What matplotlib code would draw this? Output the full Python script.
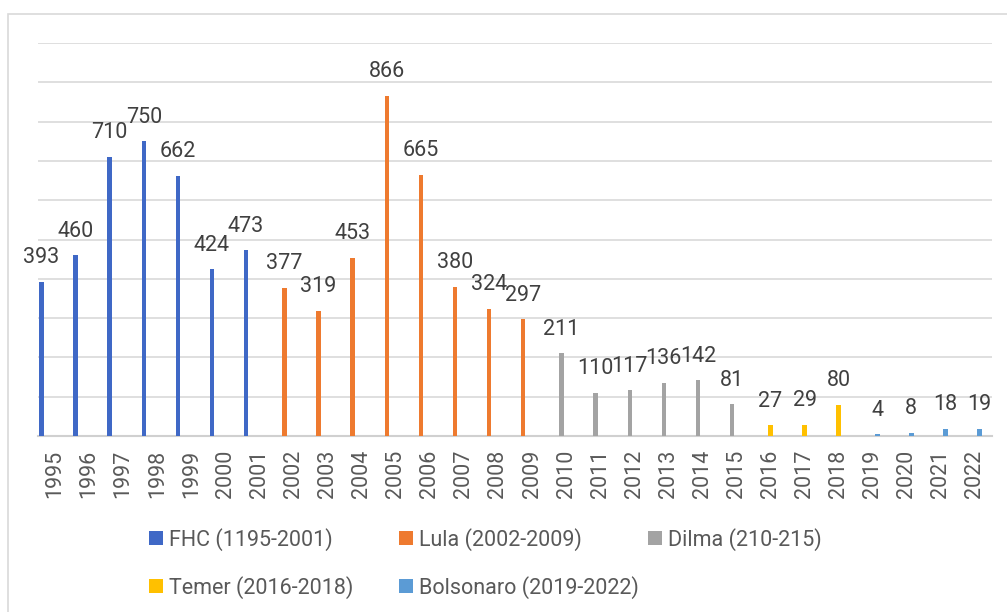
import matplotlib
matplotlib.use("Agg")
import matplotlib.pyplot as plt
from matplotlib.patches import Rectangle, Patch

# ---- data ----
years = [str(y) for y in range(1995, 2023)]
series_names = ["FHC (1195-2001)", "Lula (2002-2009)", "Dilma (210-215)",
                "Temer (2016-2018)", "Bolsonaro (2019-2022)"]
fhc_years = years[0:7]
fhc_vals = [393, 460, 710, 750, 662, 424, 473]
lula_years = years[7:15]
lula_vals = [377, 319, 453, 866, 665, 380, 324, 297]
dilma_years = years[15:21]
dilma_vals = [211, 110, 117, 136, 142, 81]
temer_years = years[21:24]
temer_vals = [27, 29, 80]
bolso_years = years[24:28]
bolso_vals = [4, 8, 18, 19]

colors = ["#3F68C6", "#EE7A2F", "#A3A3A3", "#FFC000", "#5B9BD5"]

series = [(fhc_years, fhc_vals), (lula_years, lula_vals), (dilma_years, dilma_vals),
          (temer_years, temer_vals), (bolso_years, bolso_vals)]

W, H = 1007, 612
fig = plt.figure(figsize=(W / 100, H / 100), dpi=100)
plt.rcParams['font.family'] = ['Roboto', 'DejaVu Sans']
FS = 15.5

# chart border
fig.patches.append(Rectangle((8 / W, -0.1), 1.2, (H - 14) / H + 0.1, transform=fig.transFigure,
                             fill=False, edgecolor="#D9D9D9", linewidth=1.2))

ax = fig.add_axes([38 / W, (H - 436) / H, 954 / W, 393 / H])
ax.set_xlim(-0.5, len(years) - 0.5)
ax.set_ylim(0, 1000)

cat_px = 954 / len(years)
bar_w = 4.5 / cat_px
start = 1.3 / cat_px

for k, (yrs, vals) in enumerate(series):
    xs = [years.index(y) - 0.5 + start + k * bar_w + bar_w / 2 for y in yrs]
    ax.bar(xs, vals, width=bar_w, color=colors[k], zorder=3, label=series_names[k])
    for x, v in zip(xs, vals):
        ax.annotate(str(v), (x, v), xytext=(0, 13.3), textcoords="offset points",
                    ha="center", va="baseline", fontsize=FS, color="#404040", zorder=4)

ax.set_yticks(range(0, 1001, 100))
ax.yaxis.grid(True, color="#D9D9D9", linewidth=1.2, zorder=0)
ax.tick_params(axis="y", left=False, labelleft=False)
ax.set_xticks(range(len(years)))
ax.set_xticklabels(years, rotation=90, fontsize=FS, color="#595959")
ax.tick_params(axis="x", length=0, pad=10)
for s in ["left", "right", "top"]:
    ax.spines[s].set_visible(False)
ax.spines["bottom"].set_color("#D0D0D0")
ax.spines["bottom"].set_linewidth(1.5)
ax.set_axisbelow(True)

# legend in three columns (Excel-like uniform column widths)
handles = [Patch(facecolor=c) for c in colors]
cols = [([0, 3], 149), ([1, 4], 399), ([2], 648)]
for idx, xpx in cols:
    lg = fig.legend([handles[i] for i in idx], [series_names[i] for i in idx],
                    loc="upper left", bbox_to_anchor=(xpx / W, (H - 528) / H),
                    frameon=False, fontsize=FS, handlelength=0.64, handleheight=0.64,
                    handletextpad=0.3, labelspacing=1.15, borderpad=0, borderaxespad=0,
                    labelcolor="#595959")

fig.savefig("out.png", dpi=100)
